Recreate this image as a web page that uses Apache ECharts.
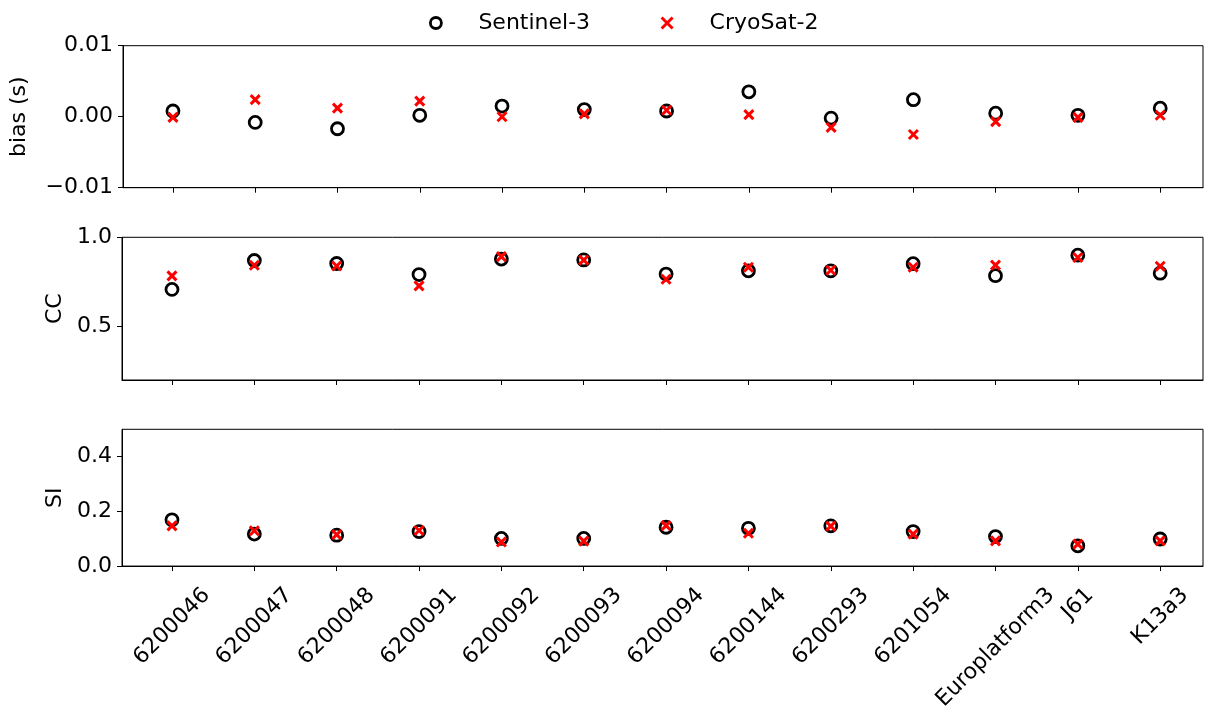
<!DOCTYPE html>
<html>
<head>
<meta charset="utf-8">
<script src="https://cdn.jsdelivr.net/npm/echarts@6/dist/echarts.min.js"></script>
<style>
html,body{margin:0;padding:0;background:#fff;}
#chart{width:1205px;height:713px;}
</style>
</head>
<body>
<div id="chart"></div>
<script>
// ---- data ----
const categories = ['6200046','6200047','6200048','6200091','6200092','6200093','6200094','6200144','6200293','6201054','Europlatform3','J61','K13a3'];
const seriesNames = ['Sentinel-3', 'CryoSat-2'];
const s3Bias  = [0.0008,-0.0008,-0.0017,0.0002,0.0015,0.0010,0.0008,0.0035,-0.0002,0.0024,0.0005,0.0002,0.0012];
const cs2Bias = [-0.0001,0.0024,0.0012,0.0022,0.0000,0.0004,0.0009,0.0003,-0.0015,-0.0025,-0.0007,-0.0001,0.0002];
const s3CC    = [0.708,0.870,0.853,0.791,0.878,0.873,0.794,0.812,0.812,0.852,0.785,0.900,0.799];
const cs2CC   = [0.784,0.843,0.839,0.728,0.892,0.872,0.765,0.832,0.815,0.832,0.844,0.887,0.838];
const s3SI    = [0.169,0.117,0.113,0.126,0.101,0.101,0.142,0.138,0.147,0.126,0.108,0.074,0.099];
const cs2SI   = [0.147,0.129,0.115,0.130,0.088,0.091,0.148,0.120,0.146,0.117,0.092,0.080,0.092];
const yNames = ['bias (s)', 'CC', 'SI'];
const yTicks = [[-0.01, 0, 0.01], [0.5, 1.0], [0.0, 0.2, 0.4]];
const yRanges = [[-0.01, 0.01], [0.2, 1.0], [0.0, 0.5]];

// ---- layout / style ----
const FONT = 'DejaVu Sans';
const FS = 22;
const gridTops = [45.7, 237.3, 429.3];
const gridHeights = [142, 142.7, 141.4];
const xMin = -0.607, xMax = 12.52;
const tickIdx = categories.map((c, i) => i);

const canvas = document.createElement('canvas');
const ctx = canvas.getContext('2d');
ctx.font = FS + 'px "' + FONT + '"';
const rich = {};
categories.forEach((c, i) => {
  const L = ctx.measureText(c).width;
  const H = FS;
  const K = 18;
  const P = 1.414 * K + 0.5 * (L + H);
  rich['c' + i] = {fontSize: FS, fontFamily: FONT, color: '#000', padding: [P, P, 0, 0]};
});

function fmtY(panel, v) {
  let s;
  if (panel === 0) s = v.toFixed(2);
  else s = v.toFixed(1);
  return s.replace('-', '\u2212');
}

const grids = [], xAxes = [], yAxes = [];
for (let p = 0; p < 3; p++) {
  grids.push({left: 122, width: 1081, top: gridTops[p], height: gridHeights[p], show: true, borderColor: '#000', borderWidth: 1, containLabel: false});
  xAxes.push({
    type: 'value', gridIndex: p, min: xMin, max: xMax,
    splitLine: {show: false},
    axisLine: {show: true, onZero: false, lineStyle: {color: '#000', width: 1}},
    axisTick: {show: true, inside: false, length: 5, lineStyle: {color: '#000', width: 1}, customValues: tickIdx},
    axisLabel: p === 2 ? {
      show: true, customValues: tickIdx, rotate: 45, align: 'center', verticalAlign: 'middle', margin: 0,
      fontSize: FS, fontFamily: FONT, color: '#000',
      formatter: v => { const i = Math.round(v); return '{c' + i + '|' + categories[i] + '}'; },
      rich: rich
    } : {show: false}
  });
  yAxes.push({
    type: 'value', gridIndex: p, min: yRanges[p][0], max: yRanges[p][1],
    name: yNames[p], nameLocation: 'middle', nameGap: p === 0 ? 93 : 56,
    nameTextStyle: {fontSize: FS, fontFamily: FONT, color: '#000'},
    splitLine: {show: false},
    axisLine: {show: true, onZero: false, lineStyle: {color: '#000', width: 1}},
    axisTick: {show: true, inside: false, length: 5, lineStyle: {color: '#000', width: 1}, customValues: yTicks[p]},
    axisLabel: {show: true, customValues: yTicks[p], margin: 10, fontSize: FS, fontFamily: FONT, color: '#000',
      formatter: v => fmtY(p, v)}
  });
}

const CROSS = 'path://M0,0L10,10M0,10L10,0';
const s3Style = {color: 'rgba(0,0,0,0)', borderColor: '#000', borderWidth: 2.8, opacity: 1};
const cs2Style = {color: '#ff0000', borderColor: '#ff0000', borderWidth: 3, opacity: 1};
const panelsS3 = [s3Bias, s3CC, s3SI];
const panelsCS2 = [cs2Bias, cs2CC, cs2SI];
const series = [];
for (let p = 0; p < 3; p++) {
  series.push({
    name: seriesNames[0], type: 'scatter', xAxisIndex: p, yAxisIndex: p,
    symbol: 'circle', symbolSize: 12, itemStyle: s3Style, z: 2,
    data: panelsS3[p].map((v, i) => [i, v])
  });
  series.push({
    name: seriesNames[1], type: 'scatter', xAxisIndex: p, yAxisIndex: p,
    symbol: CROSS, symbolSize: 9, itemStyle: cs2Style, z: 3,
    data: panelsCS2[p].map((v, i) => [i, v])
  });
}

const chart = echarts.init(document.getElementById('chart'), null, {renderer: 'canvas'});
chart.setOption({
  animation: false,
  backgroundColor: '#fff',
  legend: {
    left: 424, top: 7, itemWidth: 11, itemHeight: 11, itemGap: 70,
    textStyle: {fontSize: FS, fontFamily: FONT, color: '#000', padding: [0, 0, 0, 32]},
    data: [
      {name: seriesNames[0], icon: 'circle', itemStyle: {color: 'rgba(0,0,0,0)', borderColor: '#000', borderWidth: 2.8, opacity: 1}},
      {name: seriesNames[1], icon: CROSS, itemStyle: {color: '#ff0000', borderColor: '#ff0000', borderWidth: 3, opacity: 1}}
    ]
  },
  grid: grids, xAxis: xAxes, yAxis: yAxes, series: series
});
</script>
</body>
</html>
